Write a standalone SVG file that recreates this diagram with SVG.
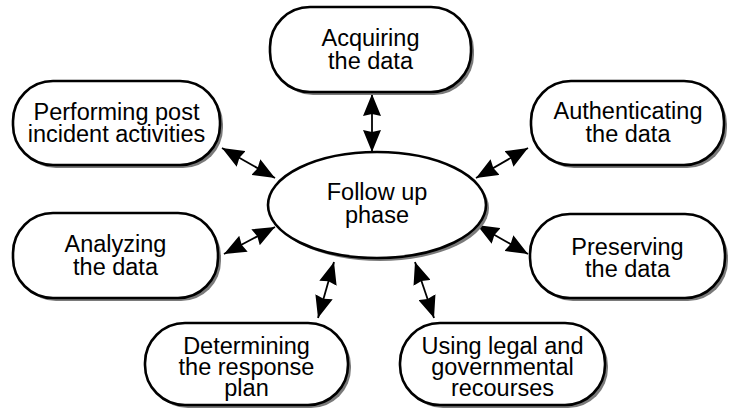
<svg xmlns="http://www.w3.org/2000/svg" width="730" height="410" viewBox="0 0 730 410">
  <defs>
    <style>
      .box { fill: #ffffff; stroke: #000000; stroke-width: 2.6; }
      .shadow { fill: #7a7a7a; stroke: none; }
      .label { font-family: "Liberation Sans", Arial, Helvetica, sans-serif; font-size: 23.5px; fill: #000000; text-anchor: middle; }
      .link { stroke: #000000; stroke-width: 1.8; fill: none; marker-start: url(#head); marker-end: url(#head); }
    </style>
    <marker id="head" markerUnits="userSpaceOnUse" markerWidth="23" markerHeight="18" refX="22" refY="9" orient="auto-start-reverse" viewBox="0 0 23 18">
      <path d="M0,0 L22,9 L0,18 L2,9 z" fill="#000000"/>
    </marker>
  </defs>

  <rect width="730" height="410" fill="#ffffff"/>

  <!-- connectors: double-headed arrows from the hub to each activity -->
  <g id="connectors">
    <line class="link" x1="372" y1="94" x2="372" y2="152"/>
    <line class="link" x1="222" y1="148" x2="275" y2="178"/>
    <line class="link" x1="528" y1="148" x2="476" y2="178"/>
    <line class="link" x1="224" y1="254" x2="275" y2="227"/>
    <line class="link" x1="528" y1="254" x2="477" y2="225"/>
    <line class="link" x1="334" y1="262" x2="318" y2="318"/>
    <line class="link" x1="415" y1="262" x2="434" y2="318"/>
  </g>

  <!-- hub -->
  <g id="follow-up">
    <ellipse class="shadow" cx="380" cy="208" rx="109" ry="53"/>
    <ellipse class="box" cx="377" cy="205" rx="109" ry="53"/>
    <text class="label" x="377" y="200">Follow up</text>
    <text class="label" x="377" y="223">phase</text>
  </g>

  <g id="acquiring">
    <rect class="shadow" x="273" y="10" width="201" height="85" rx="40" ry="40"/>
    <rect class="box" x="270" y="7" width="201" height="85" rx="40" ry="40"/>
    <text class="label" x="370.5" y="46">Acquiring</text>
    <text class="label" x="370.5" y="69">the data</text>
  </g>

  <g id="performing">
    <rect class="shadow" x="16" y="84" width="207" height="84" rx="40" ry="40"/>
    <rect class="box" x="13" y="81" width="207" height="84" rx="40" ry="40"/>
    <text class="label" x="116.5" y="120">Performing post</text>
    <text class="label" x="116.5" y="142">incident activities</text>
  </g>

  <g id="authenticating">
    <rect class="shadow" x="534" y="84" width="193" height="84" rx="40" ry="40"/>
    <rect class="box" x="531" y="81" width="193" height="84" rx="40" ry="40"/>
    <text class="label" x="628" y="119">Authenticating</text>
    <text class="label" x="628" y="142">the data</text>
  </g>

  <g id="analyzing">
    <rect class="shadow" x="16" y="216" width="205" height="85" rx="40" ry="40"/>
    <rect class="box" x="13" y="213" width="205" height="85" rx="40" ry="40"/>
    <text class="label" x="115.5" y="252">Analyzing</text>
    <text class="label" x="115.5" y="275">the data</text>
  </g>

  <g id="preserving">
    <rect class="shadow" x="533" y="217" width="195" height="84" rx="40" ry="40"/>
    <rect class="box" x="530" y="214" width="195" height="84" rx="40" ry="40"/>
    <text class="label" x="627.5" y="255">Preserving</text>
    <text class="label" x="627.5" y="277">the data</text>
  </g>

  <g id="determining">
    <rect class="shadow" x="148" y="326" width="203" height="82" rx="40" ry="40"/>
    <rect class="box" x="145" y="323" width="203" height="82" rx="40" ry="40"/>
    <text class="label" x="246.5" y="354">Determining</text>
    <text class="label" x="246.5" y="375">the response</text>
    <text class="label" x="246.5" y="396">plan</text>
  </g>

  <g id="recourses">
    <rect class="shadow" x="403" y="326" width="205" height="82" rx="40" ry="40"/>
    <rect class="box" x="400" y="323" width="205" height="82" rx="40" ry="40"/>
    <text class="label" x="502.5" y="354">Using legal and</text>
    <text class="label" x="502.5" y="375">governmental</text>
    <text class="label" x="502.5" y="396">recourses</text>
  </g>
</svg>
